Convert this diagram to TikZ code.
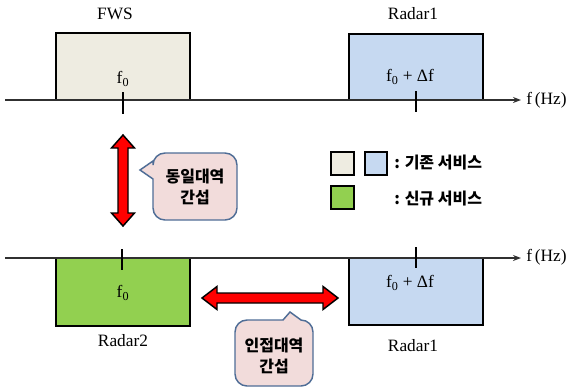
\documentclass[tikz,border=0pt]{standalone}
\usepackage{fontspec}
\setmainfont{Liberation Serif}
\newfontfamily\kr{Noto Sans CJK KR}
\usetikzlibrary{arrows.meta}
\definecolor{beige}{HTML}{EEECE1}
\definecolor{lblue}{HTML}{C6D9F1}
\definecolor{lgreen}{HTML}{92D050}
\definecolor{callfill}{HTML}{F2DCDB}
\definecolor{callline}{HTML}{4F6D96}
\definecolor{axgray}{HTML}{303030}
\tikzset{
  box/.style={draw=black, line width=1.5pt, inner sep=0pt, minimum width=100.5pt},
  axisline/.style={draw=axgray, line width=1.1pt},
  tick/.style={draw=black, line width=1.1pt},
  lbl/.style={font=\fontsize{13}{15}\selectfont, inner sep=0pt},
  krtxt/.style={font=\kr\bfseries\fontsize{12}{15.5}\selectfont, inner sep=0pt, align=center},
  callout/.style={draw=callline, fill=callfill, line width=1.1pt},
  redarrow/.style={fill=red, draw=black, line width=1.1pt, line join=miter},
  legsq/.style={draw=black, line width=1.5pt, inner sep=0pt, minimum size=17pt}
}
\begin{document}
\begin{tikzpicture}[x=0.75pt,y=-0.75pt]
\useasboundingbox (0,0) rectangle (572,387);
\begin{scope}
\clip (0,0) rectangle (572,387);
% ---------- top axis ----------
\coordinate (tL) at (5,100);
\coordinate (tR) at (521,100);
\node[box, fill=beige, minimum height=50.25pt] (fws) at (123,66.5) {};
\node[box, fill=lblue, minimum height=49.5pt] (r1t) at (416,67) {};
\draw[axisline, -{Stealth[length=6pt,width=4.5pt]}] (tL) -- (tR);
\node[lbl, anchor=west] (hzt) at (526,100) {f\,(Hz)};
\node[lbl] (fwsl) at (115,14) {FWS};
\node[lbl] (r1tl) at (413,14) {Radar1};
\node[lbl] (f0t) at (123,79) {f\textsubscript{0}};
\node[lbl] (fdt) at (410,77) {f\textsubscript{0} + Δf};
\coordinate (tk1a) at (123,92); \coordinate (tk1b) at (123,114);
\coordinate (tk2a) at (416,91); \coordinate (tk2b) at (416,112);
\draw[tick] (tk1a) -- (tk1b);
\draw[tick] (tk2a) -- (tk2b);
% ---------- bottom axis ----------
\coordinate (bL) at (5,258);
\coordinate (bR) at (521,258);
\node[box, fill=lgreen, minimum height=51pt] (r2) at (123,292) {};
\node[box, fill=lblue, minimum height=50.25pt] (r1b) at (416,291.5) {};
\draw[axisline, -{Stealth[length=6pt,width=4.5pt]}] (bL) -- (bR);
\node[lbl, anchor=west] (hzb) at (526,257) {f\,(Hz)};
\node[lbl] (f0b) at (123,293) {f\textsubscript{0}};
\node[lbl] (fdb) at (410,283) {f\textsubscript{0} + Δf};
\node[lbl] (r2l) at (123,341) {Radar2};
\node[lbl] (r1bl) at (413,346) {Radar1};
\coordinate (tk3a) at (122,249); \coordinate (tk3b) at (122,270);
\coordinate (tk4a) at (416,247); \coordinate (tk4b) at (416,268);
\draw[tick] (tk3a) -- (tk3b);
\draw[tick] (tk4a) -- (tk4b);
% ---------- vertical red double arrow ----------
\draw[redarrow] (123,135) -- (134.5,148) -- (128,148) -- (128,213) -- (134.5,213)
  -- (123,226) -- (111.5,213) -- (118,213) -- (118,148) -- (111.5,148) -- cycle;
% ---------- horizontal red double arrow ----------
\draw[redarrow] (202,298) -- (217,286.5) -- (217,293) -- (323,293) -- (323,286.5)
  -- (338,298) -- (323,309.5) -- (323,303) -- (217,303) -- (217,309.5) -- cycle;
% ---------- upper callout ----------
\draw[callout] (153,179) [rounded corners=9pt]-- (153,220) -- (237,220) -- (237,153)
  -- (153,153) [sharp corners]-- (153,161) -- (140,170) -- cycle;
\node[krtxt] (c1) at (195,187) {동일대역\\간섭};
% ---------- lower callout ----------
\draw[callout] (283,320) [rounded corners=9pt]-- (235,320) -- (235,386) -- (313,386)
  -- (313,320) [sharp corners]-- (301,320) -- (290,312) -- cycle;
\node[krtxt] (c2) at (274,356) {인접대역\\간섭};
% ---------- legend ----------
\node[legsq, fill=beige] (lg1) at (342.5,163.5) {};
\node[legsq, fill=lblue] (lg2) at (376,163.5) {};
\node[legsq, fill=lgreen] (lg3) at (342.5,197.5) {};
\node[krtxt, anchor=west] (lt1) at (394,163) {: 기존 서비스};
\node[krtxt, anchor=west] (lt2) at (394,199) {: 신규 서비스};
\end{scope}
\end{tikzpicture}
\end{document}
